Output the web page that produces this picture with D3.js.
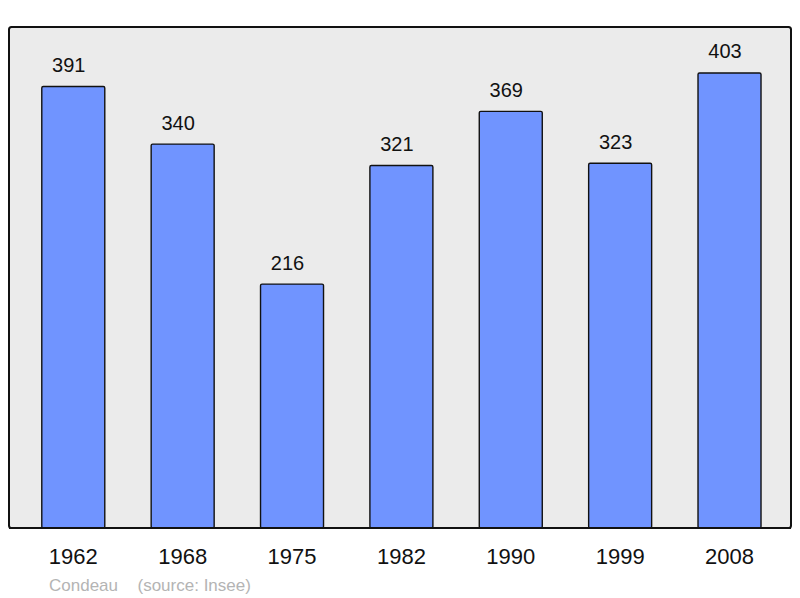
<!DOCTYPE html>
<html><head><meta charset="utf-8">
<script src="https://cdn.jsdelivr.net/npm/d3@7"></script>
<style>body{margin:0;background:#fff}svg{display:block}text{font-family:"Liberation Sans",Arial,sans-serif}</style>
</head><body>
<svg id="c" width="800" height="598"></svg>
<script>
const years = ["1962","1968","1975","1982","1990","1999","2008"];
const population = [391,340,216,321,369,323,403];
const sourceLabels = ["Condeau","(source: Insee)"];

const svg = d3.select("#c");
const frame = {x0:9, y0:27, x1:791, y1:528};

svg.append("rect").attr("x",frame.x0).attr("y",frame.y0)
  .attr("width",frame.x1-frame.x0).attr("height",frame.y1-frame.y0)
  .attr("rx",2.5).attr("fill","#ebebeb").attr("stroke","#111").attr("stroke-width",2);

const x = d3.scaleBand().domain(years).range([18.6,784.2]).paddingInner(0.424).paddingOuter(0.212);
const y = d3.scaleLinear().domain([0,443.7]).range([frame.y1,frame.y0]);

const data = years.map((yr,i)=>({yr, v:population[i]}));

svg.selectAll("rect.bar").data(data).enter().append("rect").attr("class","bar")
  .attr("x",d=>x(d.yr)).attr("y",d=>y(d.v))
  .attr("width",x.bandwidth()).attr("height",d=>y(0)-y(d.v))
  .attr("rx",1.5).attr("fill","#7094ff").attr("stroke","#111").attr("stroke-width",1.4);

svg.append("line").attr("x1",frame.x0).attr("x2",frame.x1).attr("y1",frame.y1).attr("y2",frame.y1)
  .attr("stroke","#111").attr("stroke-width",2);

svg.selectAll("text.val").data(data).enter().append("text").attr("class","val")
  .attr("x",d=>x(d.yr)+x.bandwidth()/2-4.5).attr("y",d=>y(d.v)-14.5)
  .attr("text-anchor","middle").attr("font-size",20).attr("fill","#111").text(d=>d.v);

const xAxis = d3.axisBottom(x).tickSize(0).tickPadding(0);
const ax = svg.append("g").attr("transform",`translate(0,${frame.y1})`).call(xAxis);
ax.select(".domain").remove();
ax.selectAll("text").attr("font-size",22).attr("fill","#111")
  .attr("font-family","Liberation Sans, Arial, sans-serif").attr("dy",0).attr("y",36.3);

svg.append("text").attr("x",49).attr("y",590.5).attr("font-size",17).attr("fill","#b4b4b4").text(sourceLabels[0]);
svg.append("text").attr("x",137.5).attr("y",590.5).attr("font-size",17).attr("fill","#b4b4b4").text(sourceLabels[1]);
</script>
</body></html>
